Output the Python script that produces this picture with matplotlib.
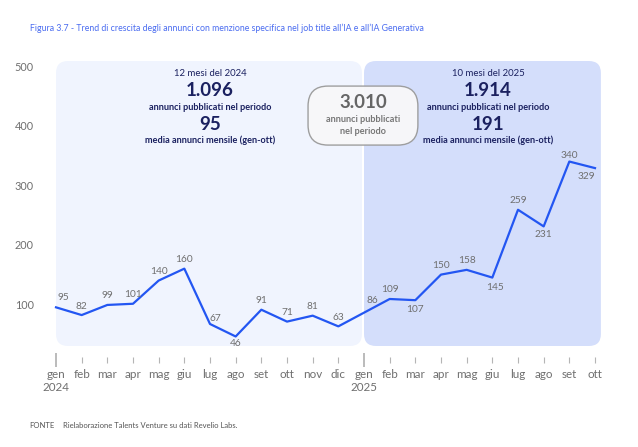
import matplotlib.pyplot as plt
from matplotlib.patches import FancyBboxPatch
from matplotlib.transforms import blended_transform_factory

plt.rcParams['font.family'] = ['Lato', 'DejaVu Sans']

# data
months = ['gen\n2024', 'feb', 'mar', 'apr', 'mag', 'giu', 'lug', 'ago', 'set', 'ott', 'nov', 'dic',
          'gen\n2025', 'feb', 'mar', 'apr', 'mag', 'giu', 'lug', 'ago', 'set', 'ott']
values_2024 = [95, 82, 99, 101, 140, 160, 67, 46, 91, 71, 81, 63]
values_2025 = [86, 109, 107, 150, 158, 145, 259, 231, 340, 329]
values = values_2024 + values_2025
yticks = [100, 200, 300, 400, 500]

# label placement (dx, dy in points)
label_offsets = {0: (5, 7), 6: (4, 4), 7: (0, -5), 12: (6, 9), 14: (0, -7), 17: (2, -7),
                 19: (0, -6), 20: (0, 4), 21: (-6, -6)}

W, H = 638, 447
navy = '#1b2160'
grey = '#6f6f6f'
blue = '#2356f2'

fig = plt.figure(figsize=(W / 100, H / 100), dpi=100)
ax = fig.add_axes([56 / W, (H - 346) / H, (595 - 56) / W, 285 / H])
x = list(range(len(values)))
ax.set_xlim(0, len(values) - 1)
ax.set_ylim(30, 509)

# shaded period boxes
tr = blended_transform_factory(ax.transData, ax.transAxes)
px_x = (595 - 56) / (len(values) - 1)
aspect = px_x / 285
ax.add_patch(FancyBboxPatch((0, 0), 11.92, 1, boxstyle='round,pad=0,rounding_size=%f' % (12 / px_x),
                            mutation_aspect=aspect, transform=tr, fc='#f0f4fe', ec='none',
                            clip_on=False, zorder=1))
ax.add_patch(FancyBboxPatch((12, 0), 9.23, 1, boxstyle='round,pad=0,rounding_size=%f' % (12 / px_x),
                            mutation_aspect=aspect, transform=tr, fc='#d4defb', ec='none',
                            clip_on=False, zorder=1))
ax.add_patch(FancyBboxPatch((9.82, 0.705), 4.28, 0.207,
                            boxstyle='round,pad=0,rounding_size=%f' % (20 / px_x),
                            mutation_aspect=aspect, transform=tr, fc='#f8f8f9', ec='#9a9a9a',
                            lw=1, alpha=0.95, clip_on=False, zorder=2))

ax.plot(x, values, color=blue, lw=1.6, zorder=4, clip_on=False)

for i, v in enumerate(values):
    dx, dy = label_offsets.get(i, (0, 6.5))
    ax.annotate(str(v), (i, v), xytext=(dx, dy), textcoords='offset points',
                ha='center', va='center', fontsize=7.3, color=grey, zorder=5)

# axes styling
for s in ax.spines.values():
    s.set_visible(False)
ax.spines['bottom'].set_position(('outward', 10.4))
ax.set_yticks(yticks)
ax.tick_params(axis='y', length=0, pad=16, labelsize=7.8, labelcolor=grey)
ax.set_xticks(x)
ax.set_xticklabels(months)
ax.tick_params(axis='x', direction='inout', length=5, width=0.8, color='#b5b5b5',
               labelsize=8.4, labelcolor=grey, pad=3.5)
for i, t in enumerate(ax.xaxis.get_major_ticks()):
    if months[i].startswith('gen'):
        t.tick1line.set_markersize(10)
        t.tick1line.set_markeredgewidth(1.3)
        t.tick1line.set_color('#9a9a9a')

# box texts
def ftext(px, py, s, **kw):
    fig.text(px / W, 1 - py / H, s, ha='center', va='center', **kw)

for cx, period, total, mean in [(210, '12 mesi del 2024', '1.096', '95'),
                                (488, '10 mesi del 2025', '1.914', '191')]:
    ftext(cx, 74, period, fontsize=6.9, color=navy)
    ftext(cx, 91, total, fontsize=13.5, color=navy, fontweight='bold')
    ftext(cx, 107, 'annunci pubblicati nel periodo', fontsize=6.6, color=navy, fontweight='bold')
    ftext(cx, 124, mean, fontsize=13.5, color=navy, fontweight='bold')
    ftext(cx, 140, 'media annunci mensile (gen-ott)', fontsize=6.6, color=navy, fontweight='bold')

ftext(363, 103, '3.010', fontsize=13.5, color='#666666', fontweight='bold')
ftext(363, 120, 'annunci pubblicati', fontsize=6.6, color='#777777', fontweight='bold')
ftext(363, 131, 'nel periodo', fontsize=6.6, color='#777777', fontweight='bold')

fig.text(30 / W, 1 - 28 / H, "Figura 3.7 - Trend di crescita degli annunci con menzione specifica "
         "nel job title all\u2019IA e all\u2019IA Generativa", fontsize=6.3, color='#4a6cf0', va='center')
fig.text(29 / W, 1 - 425 / H, 'FONTE', fontsize=5.5, color='#555555', va='center')
fig.text(63 / W, 1 - 425 / H, 'Rielaborazione Talents Venture su dati Revelio Labs.',
         fontsize=5.5, color='#555555', va='center')

fig.savefig('out.png', dpi=100)
